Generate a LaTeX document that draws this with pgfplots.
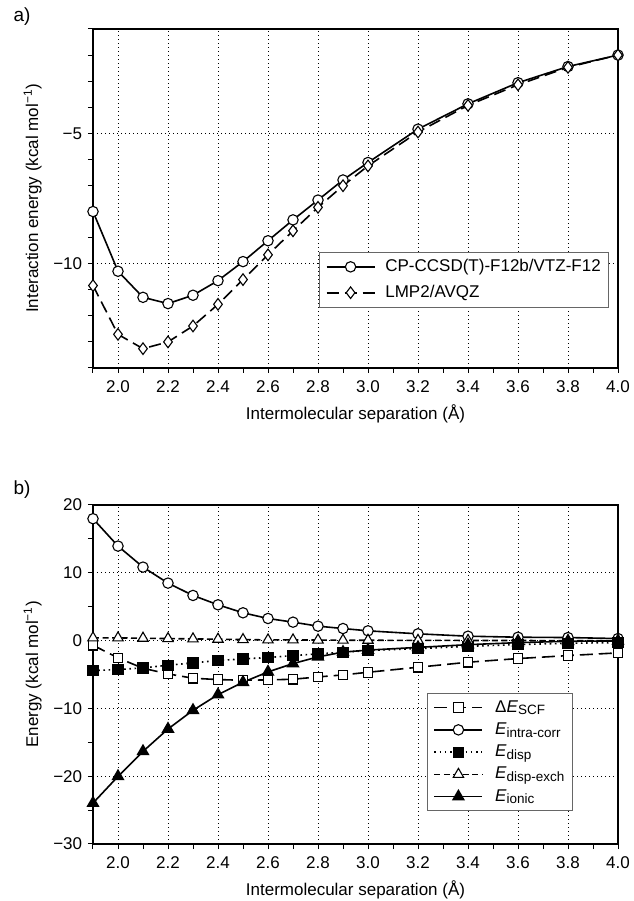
\documentclass[border=0pt]{standalone}
\usepackage{fontspec}
\setmainfont{Liberation Sans}
\usepackage{pgfplots}
\pgfplotsset{compat=1.18}
\newcommand{\sub}[1]{\raisebox{-0.3ex}{\fontsize{13.5}{14}\selectfont #1}}
\pgfplotsset{
  common/.style={
    scale only axis, width=525pt, height=339pt,
    xmin=1.9, xmax=4.0,
    xtick={2.0,2.2,2.4,2.6,2.8,3.0,3.2,3.4,3.6,3.8,4.0},
    xticklabels={2.0,2.2,2.4,2.6,2.8,3.0,3.2,3.4,3.6,3.8,4.0},
    minor xtick={1.9,2.1,2.3,2.5,2.7,2.9,3.1,3.3,3.5,3.7,3.9},
    tick align=outside, xtick pos=left, ytick pos=left,
    major tick length=5pt, minor tick length=5pt,
    every tick/.style={black, line width=1pt},
    axis line style={line width=1.2pt},
    grid=major,
    major grid style={black, line width=0.6pt, dash pattern=on 0.7pt off 3.3pt},
    xlabel={Intermolecular separation (Å)},
    xlabel style={at={(axis description cs:0.5,-0.135)}, anchor=center},
    ylabel style={at={(axis description cs:-0.115,0.5)}, anchor=center},
    xticklabel style={yshift=-2pt},
    legend cell align=left,
    legend style={draw=black!60, line width=0.7pt, fill=white, inner xsep=6pt, inner ysep=5pt},
    legend image code/.code={\draw[mark repeat=2,mark phase=2] plot coordinates {(0pt,0pt)(24pt,0pt)(48pt,0pt)};},
  },
}
\begin{document}
\fontsize{17}{20}\selectfont
\begin{tikzpicture}[x=1pt,y=1pt]
\useasboundingbox (0,0) rectangle (633,901);
\node[font=\fontsize{19}{22}\selectfont] at (22,884) {a)};
\node[font=\fontsize{19}{22}\selectfont] at (22,411) {b)};
% ---------- panel a ----------
\begin{axis}[common,
  at={(93pt,533pt)}, anchor=south west,
  ymin=-14, ymax=-1,
  ytick={-10,-5}, yticklabels={−10,−5},
  minor ytick={-14,-13,-12,-11,-9,-8,-7,-6,-4,-3,-2,-1},
  ylabel={Interaction energy (kcal mol\textsuperscript{−1})},
  legend style={at={(0.983,0.342)}, anchor=north east, row sep=7pt},
]
\addplot[black, line width=1.6pt, mark=*, mark size=5.2pt, mark options={fill=white, solid, line width=1.1pt}] coordinates {
(1.9,-8.00)(2.0,-10.29)(2.1,-11.29)(2.2,-11.53)(2.3,-11.21)(2.4,-10.65)(2.5,-9.92)(2.6,-9.12)(2.7,-8.32)(2.8,-7.56)(2.9,-6.79)(3.0,-6.12)(3.2,-4.84)(3.4,-3.87)(3.6,-3.06)(3.8,-2.44)(4.0,-2.00)};
\addlegendentry{\hspace{8pt}CP-CCSD(T)-F12b/VTZ-F12}
\addplot[black, line width=1.6pt, dash pattern=on 12pt off 6pt, mark=diamond*, mark size=5.8pt, mark options={fill=white, solid, line width=1.1pt}] coordinates {
(1.9,-10.84)(2.0,-12.71)(2.1,-13.26)(2.2,-13.00)(2.3,-12.39)(2.4,-11.56)(2.5,-10.61)(2.6,-9.66)(2.7,-8.74)(2.8,-7.84)(2.9,-7.01)(3.0,-6.25)(3.2,-4.95)(3.4,-3.93)(3.6,-3.14)(3.8,-2.47)(4.0,-2.00)};
\addlegendentry{\hspace{8pt}LMP2/AVQZ}
\end{axis}
% ---------- panel b ----------
\begin{axis}[common,
  at={(93pt,57pt)}, anchor=south west,
  ymin=-30, ymax=20,
  ytick={-30,-20,-10,0,10,20}, yticklabels={−30,−20,−10,0,10,20},
  minor ytick={-25,-15,-5,5,15},
  ylabel={Energy (kcal mol\textsuperscript{−1})},
  legend style={at={(0.914,0.445)}, anchor=north east, row sep=4pt},
]
\addplot[black, line width=1.6pt, dash pattern=on 13pt off 6pt, mark=square*, mark size=4.8pt, mark options={fill=white, solid, line width=1.1pt}] coordinates {
(1.9,-0.68)(2.0,-2.55)(2.1,-4.08)(2.2,-4.91)(2.3,-5.55)(2.4,-5.75)(2.5,-5.85)(2.6,-5.80)(2.7,-5.70)(2.8,-5.36)(2.9,-5.06)(3.0,-4.67)(3.2,-3.93)(3.4,-3.19)(3.6,-2.65)(3.8,-2.21)(4.0,-1.81)};
\addlegendentry{\hspace{10pt}Δ\textit{E}\sub{SCF}}
\addplot[black, line width=1.6pt, mark=*, mark size=5.2pt, mark options={fill=white, solid, line width=1.1pt}] coordinates {
(1.9,17.98)(2.0,13.94)(2.1,10.84)(2.2,8.48)(2.3,6.66)(2.4,5.28)(2.5,4.10)(2.6,3.26)(2.7,2.72)(2.8,2.13)(2.9,1.78)(3.0,1.44)(3.2,1.00)(3.4,0.65)(3.6,0.50)(3.8,0.45)(4.0,0.30)};
\addlegendentry{\hspace{10pt}\textit{E}\sub{intra-corr}}
\addplot[black, line width=1.6pt, dash pattern=on 1.6pt off 3.6pt, mark=square*, mark size=4.8pt, mark options={fill=black, solid}] coordinates {
(1.9,-4.42)(2.0,-4.27)(2.1,-4.03)(2.2,-3.63)(2.3,-3.29)(2.4,-2.94)(2.5,-2.70)(2.6,-2.50)(2.7,-2.21)(2.8,-1.96)(2.9,-1.72)(3.0,-1.47)(3.2,-1.18)(3.4,-0.84)(3.6,-0.59)(3.8,-0.39)(4.0,-0.30)};
\addlegendentry{\hspace{10pt}\textit{E}\sub{disp}}
\addplot[black, line width=1.6pt, dash pattern=on 6pt off 3.5pt, mark=triangle*, mark size=6pt, mark options={fill=white, solid, line width=1.1pt}] coordinates {
(1.9,0.40)(2.0,0.40)(2.1,0.35)(2.2,0.30)(2.3,0.25)(2.4,0.20)(2.5,0.15)(2.6,0.10)(2.7,0.10)(2.8,0.08)(2.9,0.06)(3.0,0.05)(3.2,0.03)(3.4,0.02)(3.6,0.01)(3.8,0.00)(4.0,0.00)};
\addlegendentry{\hspace{10pt}\textit{E}\sub{disp-exch}}
\addplot[black, line width=1.6pt, mark=triangle*, mark size=6pt, mark options={fill=black, solid}] coordinates {
(1.9,-23.97)(2.0,-20.03)(2.1,-16.34)(2.2,-13.04)(2.3,-10.28)(2.4,-7.97)(2.5,-6.14)(2.6,-4.62)(2.7,-3.39)(2.8,-2.40)(2.9,-1.70)(3.0,-1.40)(3.2,-1.00)(3.4,-0.60)(3.6,-0.30)(3.8,-0.10)(4.0,-0.05)};
\addlegendentry{\hspace{10pt}\textit{E}\sub{ionic}}
\end{axis}
\end{tikzpicture}
\end{document}
